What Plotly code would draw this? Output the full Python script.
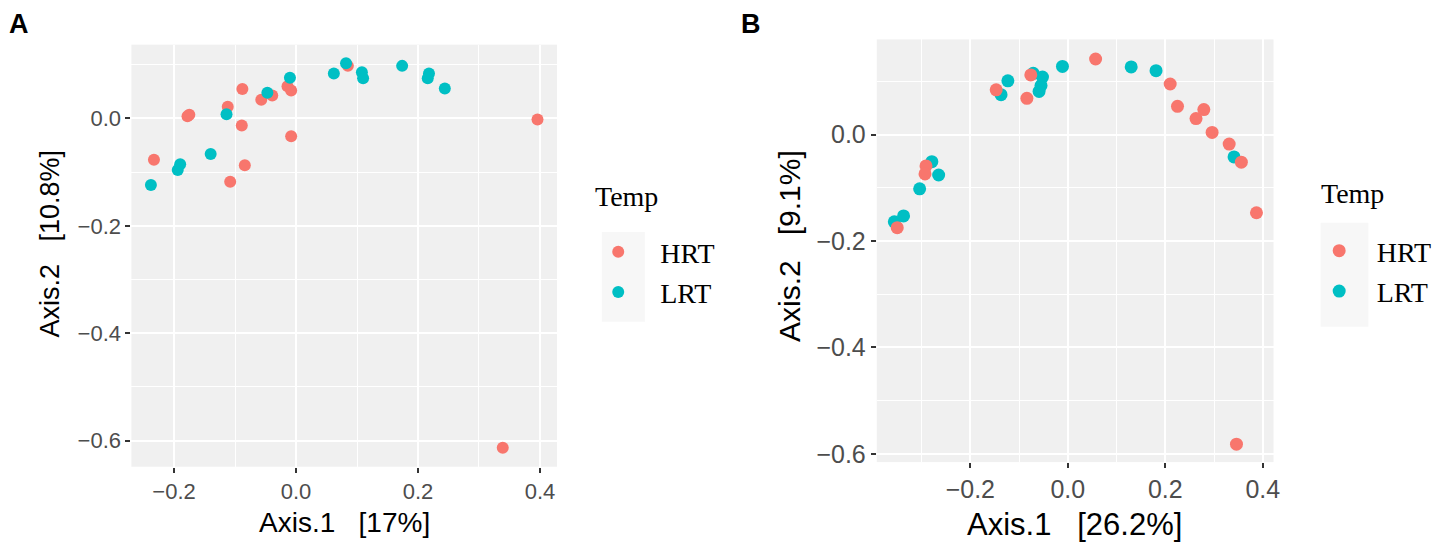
import plotly.graph_objects as go

W, H = 1440, 543

# ---------------- data ----------------
# Panel A
a_hrt_x = [-0.233, -0.178, -0.175, -0.112, -0.088, -0.089, -0.084, -0.108, -0.057, -0.039,
           -0.014, -0.008, -0.008, 0.085, 0.396, 0.339]
a_hrt_y = [-0.077, 0.004, 0.007, 0.022, 0.055, -0.013, -0.087, -0.118, 0.035, 0.043,
           0.060, 0.052, -0.033, 0.098, -0.002, -0.613]
a_lrt_x = [-0.238, -0.194, -0.190, -0.140, -0.114, -0.047, -0.010, 0.062, 0.082, 0.108,
           0.110, 0.174, 0.218, 0.216, 0.244]
a_lrt_y = [-0.124, -0.096, -0.085, -0.066, 0.008, 0.048, 0.076, 0.084, 0.103, 0.086,
           0.075, 0.098, 0.084, 0.075, 0.056]

# Panel B
b_hrt_x = [-0.350, -0.291, -0.293, -0.147, -0.084, -0.076, 0.057, 0.210, 0.225, 0.263,
           0.279, 0.296, 0.331, 0.356, 0.387, 0.346]
b_hrt_y = [-0.175, -0.059, -0.074, 0.084, 0.068, 0.112, 0.142, 0.095, 0.053, 0.030,
           0.047, 0.004, -0.018, -0.052, -0.147, -0.582]
b_lrt_x = [-0.356, -0.337, -0.304, -0.279, -0.265, -0.137, -0.123, -0.071, -0.052, -0.055,
           -0.059, -0.011, 0.130, 0.181, 0.341]
b_lrt_y = [-0.164, -0.153, -0.102, -0.051, -0.076, 0.075, 0.101, 0.115, 0.108, 0.092,
           0.081, 0.128, 0.127, 0.120, -0.042]

groups = ["HRT", "LRT"]
x_ticks = [-0.2, 0.0, 0.2, 0.4]
y_ticks = [-0.6, -0.4, -0.2, 0.0]
a_xtitle = "Axis.1   [17%]"
a_ytitle = "Axis.2   [10.8%]"
b_xtitle = "Axis.1   [26.2%]"
b_ytitle = "Axis.2   [9.1%]"
legend_title = "Temp"

# ---------------- style ----------------
RED = "#F8766D"
TEAL = "#00BFC4"
PANEL_BG = "#F0F0F0"
SANS = "Liberation Sans, Arial, sans-serif"
SERIF = "Liberation Serif, Times New Roman, serif"


def nb(s):
    return s.replace(" ", "\u00a0")


fig = go.Figure()

# Panel A: HRT then LRT
fig.add_trace(go.Scatter(x=a_hrt_x, y=a_hrt_y, mode="markers", name=groups[0],
                         marker=dict(color=RED, size=12, line=dict(width=0)),
                         xaxis="x", yaxis="y", legend="legend", legendgroup="a1"))
fig.add_trace(go.Scatter(x=a_lrt_x, y=a_lrt_y, mode="markers", name=groups[1],
                         marker=dict(color=TEAL, size=12, line=dict(width=0)),
                         xaxis="x", yaxis="y", legend="legend", legendgroup="a2"))
# Panel B: LRT then HRT (drawn on top)
fig.add_trace(go.Scatter(x=b_lrt_x, y=b_lrt_y, mode="markers", name=groups[1],
                         marker=dict(color=TEAL, size=13, line=dict(width=0)),
                         xaxis="x2", yaxis="y2", legend="legend2", legendgroup="b2",
                         legendrank=2))
fig.add_trace(go.Scatter(x=b_hrt_x, y=b_hrt_y, mode="markers", name=groups[0],
                         marker=dict(color=RED, size=13, line=dict(width=0)),
                         xaxis="x2", yaxis="y2", legend="legend2", legendgroup="b1",
                         legendrank=1))


def px_x(p):
    return p / W


def px_y(p):
    return 1 - p / H


def axis(domain, rng, ticks, fs, anchor):
    return dict(domain=domain, range=rng, tickvals=ticks, tickformat=".1f",
                showgrid=True, gridcolor="white", gridwidth=2.4,
                minor=dict(showgrid=True, gridcolor="white", gridwidth=1.2, dtick=0.1,
                           tick0=0, ticks=""),
                zeroline=False, showline=False,
                ticks="outside", ticklen=5, tickwidth=2, tickcolor="#333333",
                tickfont=dict(family=SANS, size=fs, color="#4D4D4D"),
                anchor=anchor, fixedrange=True)


leg_common = dict(xanchor="left", yanchor="top", bgcolor="rgba(0,0,0,0)",
                  font=dict(family=SERIF, size=28, color="black"),
                  tracegroupgap=1, itemsizing="trace")

layout = dict(
    width=W, height=H,
    margin=dict(l=0, r=0, t=0, b=0),
    paper_bgcolor="white",
    plot_bgcolor=PANEL_BG,
    showlegend=True,
    xaxis=axis([px_x(124), px_x(551.7)], [-0.270, 0.428], x_ticks, 22, "y"),
    yaxis=axis([px_y(463), px_y(37)], [-0.6485, 0.1375], y_ticks, 22, "x"),
    xaxis2=axis([px_x(873), px_x(1271.7)], [-0.392, 0.422], x_ticks, 25, "y2"),
    yaxis2=axis([px_y(458.3), px_y(31.7)], [-0.6156, 0.1788], y_ticks, 25, "x2"),
    legend=dict(x=px_x(571), y=px_y(221), itemwidth=74, **leg_common),
    legend2=dict(x=px_x(1300), y=px_y(220), itemwidth=65, **leg_common),
)
fig.update_layout(**layout)

# Legend key backgrounds
fig.add_shape(type="rect", xref="paper", yref="paper",
              x0=px_x(596.7), x1=px_x(640), y0=px_y(316.7), y1=px_y(226),
              fillcolor="#F7F7F7", line=dict(width=0), layer="below")
fig.add_shape(type="rect", xref="paper", yref="paper",
              x0=px_x(1319), x1=px_x(1367), y0=px_y(321.7), y1=px_y(216.7),
              fillcolor="#F7F7F7", line=dict(width=0), layer="below")

ann = []
# legend titles
ann.append(dict(text=legend_title, x=px_x(588), y=px_y(190), xref="paper", yref="paper",
                showarrow=False, xanchor="left", yanchor="middle",
                font=dict(family=SERIF, size=28, color="black")))
ann.append(dict(text=legend_title, x=px_x(1317), y=px_y(187), xref="paper", yref="paper",
                showarrow=False, xanchor="left", yanchor="middle",
                font=dict(family=SERIF, size=28, color="black")))
# axis titles
ann.append(dict(text=nb(a_xtitle), x=px_x(338), y=px_y(519), xref="paper", yref="paper",
                showarrow=False, xanchor="center", yanchor="middle",
                font=dict(family=SANS, size=28, color="black")))
ann.append(dict(text=nb(b_xtitle), x=px_x(1072), y=px_y(521), xref="paper", yref="paper",
                showarrow=False, xanchor="center", yanchor="middle",
                font=dict(family=SANS, size=31, color="black")))
ann.append(dict(text=nb(a_ytitle), x=px_x(42), y=px_y(238), xref="paper", yref="paper",
                showarrow=False, xanchor="center", yanchor="middle", textangle=-90,
                font=dict(family=SANS, size=27, color="black")))
ann.append(dict(text=nb(b_ytitle), x=px_x(786), y=px_y(240), xref="paper", yref="paper",
                showarrow=False, xanchor="center", yanchor="middle", textangle=-90,
                font=dict(family=SANS, size=30, color="black")))
# panel tags
ann.append(dict(text="<b>A</b>", x=px_x(0), y=px_y(0), xref="paper", yref="paper",
                showarrow=False, xanchor="left", yanchor="top", borderpad=0,
                font=dict(family=SANS, size=27, color="black")))
ann.append(dict(text="<b>B</b>", x=px_x(736), y=px_y(0), xref="paper", yref="paper",
                showarrow=False, xanchor="left", yanchor="top", borderpad=0,
                font=dict(family=SANS, size=27, color="black")))
fig.update_layout(annotations=ann)

fig.write_html("out.html")
